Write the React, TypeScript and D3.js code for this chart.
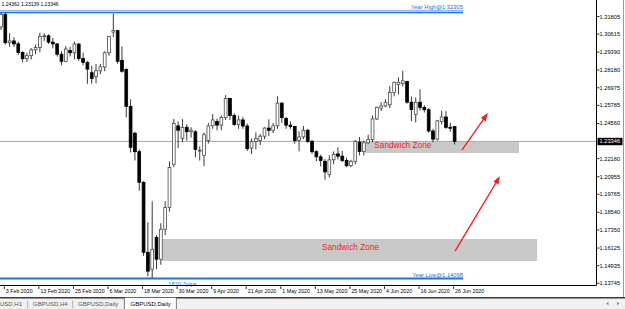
import React from 'react';
import * as d3 from 'd3';

const W = 625;
const H = 309;

// Daily GBPUSD candles [open, high, low, close], 31 Jan 2020 .. 26 Jun 2020
const candles: [number, number, number, number][] = [
  [1.3110, 1.3207, 1.3090, 1.3195],
  [1.3195, 1.3210, 1.2990, 1.3003],
  [1.3003, 1.3068, 1.2976, 1.3015],
  [1.3015, 1.3040, 1.2975, 1.2995],
  [1.2995, 1.3010, 1.2920, 1.2937],
  [1.2937, 1.2945, 1.2870, 1.2895],
  [1.2895, 1.2935, 1.2873, 1.2915],
  [1.2915, 1.2966, 1.2890, 1.2955],
  [1.2955, 1.2990, 1.2925, 1.2970],
  [1.2970, 1.3070, 1.2938, 1.3045],
  [1.3045, 1.3068, 1.3015, 1.3050],
  [1.3050, 1.3060, 1.2995, 1.3007],
  [1.3007, 1.3035, 1.2965, 1.2995],
  [1.2995, 1.3000, 1.2910, 1.2925],
  [1.2925, 1.2945, 1.2850, 1.2877],
  [1.2877, 1.2980, 1.2870, 1.2960],
  [1.2950, 1.2975, 1.2910, 1.2935],
  [1.2935, 1.3010, 1.2890, 1.2994],
  [1.2994, 1.3000, 1.2880, 1.2896],
  [1.2896, 1.2935, 1.2850, 1.2870],
  [1.2870, 1.2880, 1.2725, 1.2824],
  [1.2800, 1.2847, 1.2725, 1.2760],
  [1.2773, 1.2858, 1.2728, 1.2813],
  [1.2813, 1.2860, 1.2790, 1.2840],
  [1.2838, 1.2945, 1.2810, 1.2935],
  [1.2935, 1.3050, 1.2915, 1.3045],
  [1.3075, 1.3200, 1.3040, 1.3085],
  [1.3085, 1.3090, 1.2860, 1.2877],
  [1.2883, 1.2978, 1.2800, 1.2810],
  [1.2822, 1.2830, 1.2497, 1.2572],
  [1.2572, 1.2620, 1.2260, 1.2295],
  [1.2390, 1.2400, 1.2205, 1.2265],
  [1.2265, 1.2280, 1.2000, 1.2058],
  [1.2058, 1.2065, 1.1560, 1.1584],
  [1.1584, 1.1787, 1.1422, 1.1456],
  [1.1469, 1.1929, 1.1410, 1.1604],
  [1.1685, 1.1700, 1.1469, 1.1537],
  [1.1537, 1.1780, 1.1500, 1.1740],
  [1.1740, 1.1930, 1.1700, 1.1888],
  [1.1888, 1.2200, 1.1860, 1.2159],
  [1.2180, 1.2486, 1.2160, 1.2456],
  [1.2440, 1.2470, 1.2290, 1.2410],
  [1.2355, 1.2485, 1.2330, 1.2430],
  [1.2430, 1.2450, 1.2340, 1.2400],
  [1.2400, 1.2430, 1.2360, 1.2410],
  [1.2400, 1.2410, 1.2227, 1.2281],
  [1.2270, 1.2300, 1.2205, 1.2275],
  [1.2240, 1.2395, 1.2166, 1.2380],
  [1.2340, 1.2460, 1.2320, 1.2440],
  [1.2440, 1.2520, 1.2420, 1.2480],
  [1.2470, 1.2490, 1.2410, 1.2445],
  [1.2445, 1.2510, 1.2410, 1.2496],
  [1.2496, 1.2648, 1.2480, 1.2625],
  [1.2625, 1.2630, 1.2480, 1.2510],
  [1.2510, 1.2525, 1.2440, 1.2450],
  [1.2450, 1.2510, 1.2420, 1.2480],
  [1.2480, 1.2500, 1.2420, 1.2439],
  [1.2439, 1.2455, 1.2270, 1.2285],
  [1.2290, 1.2355, 1.2250, 1.2335],
  [1.2335, 1.2396, 1.2281, 1.2355],
  [1.2340, 1.2385, 1.2310, 1.2370],
  [1.2370, 1.2430, 1.2350, 1.2425],
  [1.2425, 1.2484, 1.2370, 1.2410],
  [1.2410, 1.2460, 1.2390, 1.2440],
  [1.2440, 1.2640, 1.2420, 1.2594],
  [1.2594, 1.2600, 1.2460, 1.2496],
  [1.2490, 1.2500, 1.2420, 1.2445],
  [1.2445, 1.2470, 1.2420, 1.2436],
  [1.2436, 1.2440, 1.2320, 1.2340],
  [1.2342, 1.2403, 1.2268, 1.2365],
  [1.2365, 1.2440, 1.2350, 1.2410],
  [1.2410, 1.2420, 1.2325, 1.2335],
  [1.2335, 1.2345, 1.2250, 1.2265],
  [1.2265, 1.2275, 1.2200, 1.2230],
  [1.2230, 1.2245, 1.2165, 1.2205],
  [1.2200, 1.2215, 1.2075, 1.2128],
  [1.2110, 1.2240, 1.2090, 1.2210],
  [1.2210, 1.2267, 1.2180, 1.2247],
  [1.2250, 1.2294, 1.2213, 1.2235],
  [1.2235, 1.2270, 1.2195, 1.2205],
  [1.2205, 1.2225, 1.2160, 1.2170],
  [1.2170, 1.2210, 1.2160, 1.2200],
  [1.2200, 1.2345, 1.2180, 1.2335],
  [1.2330, 1.2365, 1.2240, 1.2267],
  [1.2267, 1.2340, 1.2240, 1.2325],
  [1.2325, 1.2380, 1.2320, 1.2347],
  [1.2347, 1.2510, 1.2330, 1.2487],
  [1.2487, 1.2570, 1.2480, 1.2566],
  [1.2560, 1.2600, 1.2540, 1.2575],
  [1.2575, 1.2620, 1.2565, 1.2600],
  [1.2582, 1.2710, 1.2560, 1.2667],
  [1.2667, 1.2740, 1.2640, 1.2735],
  [1.2720, 1.2768, 1.2653, 1.2735],
  [1.2726, 1.2813, 1.2707, 1.2745],
  [1.2740, 1.2745, 1.2590, 1.2600],
  [1.2600, 1.2640, 1.2471, 1.2550],
  [1.2518, 1.2633, 1.2464, 1.2600],
  [1.2600, 1.2688, 1.2545, 1.2565],
  [1.2565, 1.2580, 1.2530, 1.2549],
  [1.2549, 1.2560, 1.2395, 1.2405],
  [1.2405, 1.2420, 1.2330, 1.2350],
  [1.2350, 1.2480, 1.2340, 1.2474],
  [1.2470, 1.2542, 1.2450, 1.2500],
  [1.2500, 1.2540, 1.2420, 1.2430],
  [1.2430, 1.2460, 1.2400, 1.2427],
  [1.24362, 1.24362, 1.23139, 1.23346],
];

const headerValues = ['1.24362', '1.23139', '1.23346'];
const lastPrice = 1.23346;

const priceTicks = [
  1.31805, 1.30615, 1.2939, 1.2818, 1.26975, 1.25785, 1.2456, 1.2218,
  1.20955, 1.19765, 1.1854, 1.1735, 1.16125, 1.14935, 1.13745,
];

const dateTicks = [
  '2020-02-03', '2020-02-13', '2020-02-25', '2020-03-06', '2020-03-18',
  '2020-03-30', '2020-04-09', '2020-04-21', '2020-05-01', '2020-05-13',
  '2020-05-25', '2020-06-04', '2020-06-16', '2020-06-26',
];

const yearHigh = 1.32305;
const yearLow = 1.14098;
const rangePipsLabel = '1820.7pips';

// Sandwich zones: [startBar, endBar (future bars allowed), topPrice, bottomPrice]
const zones: [number, number, number, number][] = [
  [84.3, 119.9, 1.2331, 1.2256],
  [37.3, 124.1, 1.1674, 1.1525],
];
const zoneLabel = 'Sandwich Zone';
const zoneLabelPos: [number, number][] = [
  [86.4, 1.2292],
  [74.3, 1.1600],
];

// Arrows: [fromBar, fromPrice, toBar, toPrice]
const arrows: [number, number, number, number][] = [
  [106.7, 1.2276, 112.7, 1.2527],
  [105.1, 1.1591, 115.5, 1.2099],
];

const tabs = ['USD,H1', 'GBPUSD,H4', 'GBPUSD,Daily'];
const activeTab = 'GBPUSD,Daily';

const FONT = '"Liberation Sans", Arial, sans-serif';

export default function App() {
  const days = d3
    .timeDays(new Date(2020, 0, 31), new Date(2020, 5, 27))
    .filter((d) => d.getDay() !== 0 && d.getDay() !== 6);
  const key = d3.timeFormat('%Y-%m-%d');
  const fmt = d3.timeFormat('%-d %b %Y');
  const keys = days.map(key);

  const x = d3.scaleLinear().domain([0, candles.length - 1]).range([1, 454.6]);
  const y = d3.scaleLinear().domain([1.13745, 1.31805]).range([283.2, 16.5]);

  const plotR = 596.5;
  const plotB = 285.5;
  const blue = '#1f6fe8';
  const red = '#ff1a1a';

  const arrowHead = (x1: number, y1: number, x2: number, y2: number) => {
    const ang = Math.atan2(y2 - y1, x2 - x1);
    const len = 8;
    const half = 3;
    const bx = x2 - len * Math.cos(ang);
    const by = y2 - len * Math.sin(ang);
    const px = -Math.sin(ang) * half;
    const py = Math.cos(ang) * half;
    return `M${x2},${y2}L${bx + px},${by + py}L${bx - px},${by - py}Z`;
  };

  return (
    <svg
      width={W}
      height={H}
      viewBox={`0 0 ${W} ${H}`}
      style={{ position: 'absolute', left: 0, top: 0, background: '#fff' }}
      fontFamily={FONT}
    >
      <rect x={0} y={0} width={W} height={H} fill="#fff" />

      {/* zones */}
      {zones.map((z, i) => (
        <rect
          key={'z' + i}
          x={x(z[0])}
          y={y(z[2])}
          width={x(z[1]) - x(z[0])}
          height={y(z[3]) - y(z[2])}
          fill="#c8c8c8"
        />
      ))}

      {/* bid line */}
      <line x1={0} x2={plotR} y1={y(lastPrice)} y2={y(lastPrice)} stroke="#a8a8a8" strokeWidth={1} />

      {/* year high / low lines */}
      <line x1={0} x2={463} y1={y(yearHigh) + 1.3} y2={y(yearHigh) + 1.3} stroke="#7fb0ff" strokeWidth={1} />
      <line x1={0} x2={463} y1={y(yearHigh) + 3.4} y2={y(yearHigh) + 3.4} stroke={blue} strokeWidth={1.6} />
      <line x1={0} x2={463} y1={y(yearLow) + 0.5} y2={y(yearLow) + 0.5} stroke={blue} strokeWidth={2} />
      <text x={463} y={y(yearHigh) + 0.3} fontSize={5.8} fill={blue} textAnchor="end">
        {'Year High@' + yearHigh.toFixed(5)}
      </text>
      <text x={463} y={y(yearLow) - 1.2} fontSize={5.8} fill={blue} textAnchor="end">
        {'Year Low@' + yearLow.toFixed(5)}
      </text>
      <text x={182.5} y={y(yearLow) + 7.6} fontSize={5.8} fill={blue} textAnchor="middle">
        {rangePipsLabel}
      </text>

      {/* candles */}
      {candles.map((c, i) => {
        const [o, h, l, cl] = c;
        const cx = x(i);
        const bull = cl >= o;
        const yt = y(Math.max(o, cl));
        const yb = y(Math.min(o, cl));
        return (
          <g key={'c' + i}>
            <line x1={cx} x2={cx} y1={y(h)} y2={y(l)} stroke="#222" strokeWidth={0.9} />
            <rect
              x={cx - 1.4}
              y={yt}
              width={2.8}
              height={Math.max(yb - yt, 0.9)}
              fill={bull ? '#fff' : '#000'}
              stroke={bull ? '#4a4a4a' : '#000'}
              strokeWidth={0.8}
            />
          </g>
        );
      })}

      {/* zone labels */}
      {zoneLabelPos.map((p, i) => (
        <text key={'zl' + i} x={x(p[0])} y={y(p[1])} fontSize={8.3} fill={red}>
          {zoneLabel}
        </text>
      ))}

      {/* arrows */}
      {arrows.map((a, i) => {
        const x1 = x(a[0]);
        const y1 = y(a[1]);
        const x2 = x(a[2]);
        const y2 = y(a[3]);
        return (
          <g key={'a' + i}>
            <line x1={x1} y1={y1} x2={x2 - 5 * Math.cos(Math.atan2(y2 - y1, x2 - x1))} y2={y2 - 5 * Math.sin(Math.atan2(y2 - y1, x2 - x1))} stroke={red} strokeWidth={1.4} />
            <path d={arrowHead(x1, y1, x2, y2)} fill={red} />
          </g>
        );
      })}

      {/* header */}
      <text x={1.5} y={5.6} fontSize={5} fill="#000">
        {headerValues.join(' ')}
      </text>

      {/* axes */}
      <line x1={plotR} x2={plotR} y1={0} y2={plotB} stroke="#000" strokeWidth={1} />
      <line x1={0} x2={plotR} y1={plotB} y2={plotB} stroke="#000" strokeWidth={1} />
      {priceTicks.map((p) => (
        <g key={'p' + p}>
          <line x1={plotR} x2={plotR + 3} y1={y(p)} y2={y(p)} stroke="#000" strokeWidth={0.8} />
          <text x={599.5} y={y(p) + 2} fontSize={5.7} fill="#000">
            {p.toFixed(5)}
          </text>
        </g>
      ))}
      <rect x={597.5} y={y(lastPrice) - 3.6} width={25} height={7.4} fill="#000" />
      <text x={599.5} y={y(lastPrice) + 2} fontSize={5.7} fill="#fff">
        {lastPrice.toFixed(5)}
      </text>

      {dateTicks.map((dk) => {
        const i = keys.indexOf(dk);
        const tx = x(i) - 1;
        return (
          <g key={'d' + dk}>
            <line x1={tx} x2={tx} y1={plotB} y2={plotB + 3.5} stroke="#000" strokeWidth={0.8} />
            <text x={tx + 1.5} y={293.3} fontSize={5.3} fill="#000">
              {fmt(days[i])}
            </text>
          </g>
        );
      })}

      {/* right window border */}
      <line x1={623.5} x2={623.5} y1={0} y2={297} stroke="#9a9a9a" strokeWidth={1} />

      {/* tab bar */}
      <rect x={0} y={298} width={W} height={11} fill="#f0f0f0" />
      <line x1={0} x2={W} y1={297.8} y2={297.8} stroke="#3a3a3a" strokeWidth={1.4} />
      <line x1={27.7} x2={27.7} y1={300.5} y2={308} stroke="#9a9a9a" strokeWidth={0.8} />
      <line x1={72.7} x2={72.7} y1={300.5} y2={308} stroke="#9a9a9a" strokeWidth={0.8} />
      <text x={0} y={306.2} fontSize={6} fill="#555">{tabs[0]}</text>
      <text x={33} y={306.2} fontSize={6} fill="#555">{tabs[1]}</text>
      <text x={78} y={306.2} fontSize={6} fill="#555">{tabs[2]}</text>
      <rect x={124.3} y={297.5} width={52} height={12} fill="#fff" stroke="#5a5a5a" strokeWidth={0.8} />
      <text x={130.5} y={306.2} fontSize={6} fill="#000">{activeTab}</text>
      <path d="M606,303.5L608.5,301.8L608.5,305.2Z" fill="#888" />
      <path d="M619.5,303.5L617,301.8L617,305.2Z" fill="#888" />
    </svg>
  );
}
